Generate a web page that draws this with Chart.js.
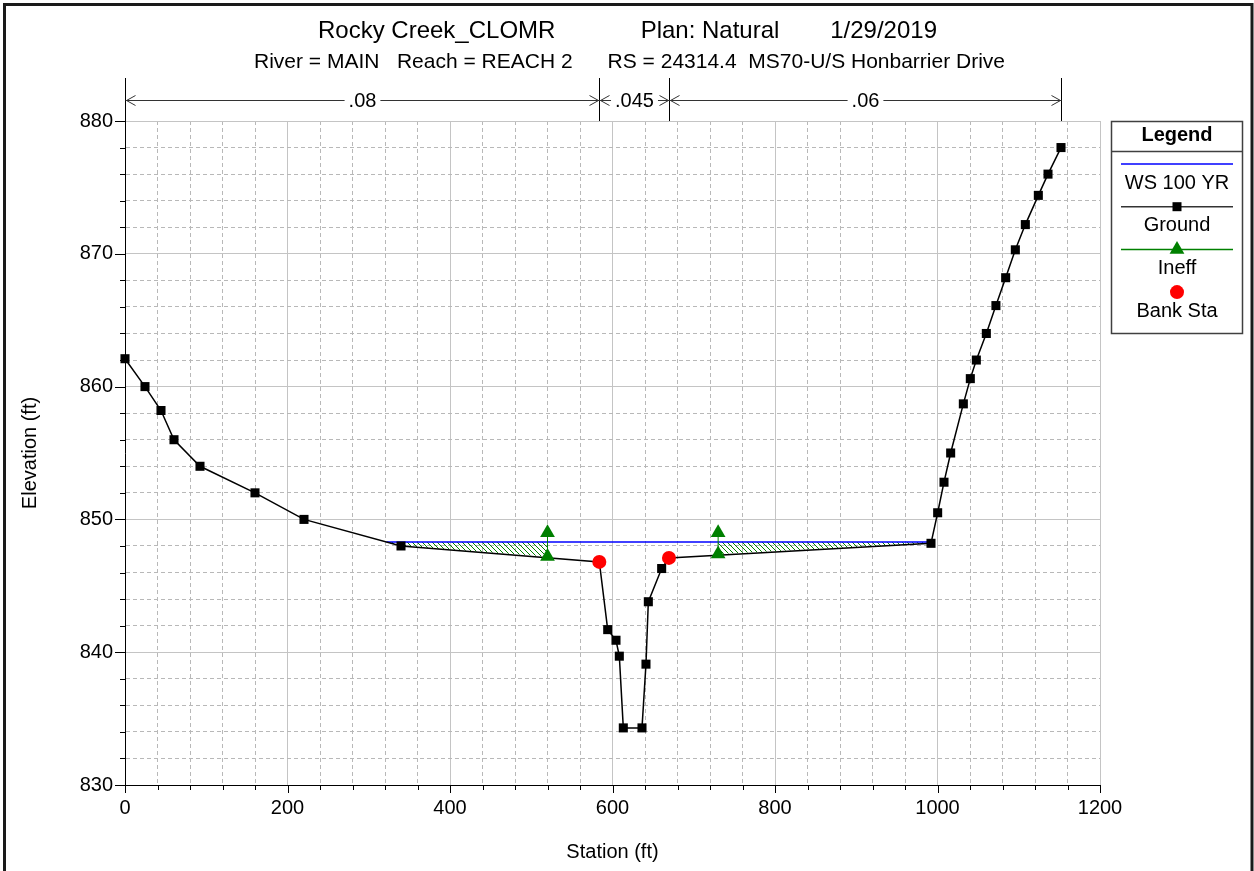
<!DOCTYPE html>
<html>
<head>
<meta charset="utf-8">
<title>Rocky Creek_CLOMR - Natural</title>
<script src="https://cdn.jsdelivr.net/npm/chart.js@4.4.1/dist/chart.umd.min.js"></script>
<style>
  html, body { margin: 0; padding: 0; background: #fff; }
  #wrap { width: 1254px; height: 871px; position: relative; }
</style>
</head>
<body>
<div id="wrap"><canvas id="xsChart" width="1254" height="871"></canvas></div>
<script>
// ground section (station ft / elevation ft)
const stations   = [0, 24.6, 44.3, 60.3, 92.3, 160.0, 220.3, 339.7, 583.8, 594.1, 604.3, 608.4, 613.3, 636.3, 641.2, 644.1, 660.5, 669.5,
                    992.0, 1000.2, 1008.0, 1016.2, 1031.8, 1040.4, 1047.8, 1060.1, 1071.9, 1083.9, 1095.8, 1108.1, 1124.1, 1136.0, 1152.0];
const elevations = [862.1, 860.0, 858.2, 856.0, 854.0, 852.0, 850.0, 848.0, 846.8, 841.7, 840.9, 839.7, 834.3, 834.3, 839.1, 843.8, 846.3, 847.1,
                    848.2, 850.5, 852.8, 855.0, 858.7, 860.6, 862.0, 864.0, 866.1, 868.2, 870.3, 872.2, 874.4, 876.0, 878.0];

// water surface
const wsStations = [321.8, 992.3];
const wsElevation = 848.3;

// ineffective flow limits
const ineffStations = [520, 730];
const ineffGround = [847.2, 847.4];
const ineffElevation = 849.0;

// bank stations
const bankStations = [583.8, 669.5];
const bankElevations = [846.8, 847.1];

// manning's n breaks
const nBreakStations = [0, 583.8, 669.5, 1152];
const nValues = ['.08', '.045', '.06'];

// axes
const xMin = 0, xMax = 1200, xMinorStep = 40, xLabelStep = 200;
const yMin = 830, yMax = 880, yMinorStep = 2, yLabelStep = 10;

const titleParts = ['Rocky Creek_CLOMR', 'Plan: Natural', '1/29/2019'];
const subtitleText = 'River = MAIN   Reach = REACH 2      RS = 24314.4  MS70-U/S Honbarrier Drive';

const legendItems = [
  { label: 'WS 100 YR', color: '#0000ff', marker: null },
  { label: 'Ground', color: '#000000', marker: 'rect' },
  { label: 'Ineff', color: '#008000', marker: 'triangle' },
  { label: 'Bank Sta', color: '#ff0000', marker: 'circle', noLine: true }
];

const FONT = '"Liberation Sans", Arial, Helvetica, sans-serif';

function isStep(v, step) {
  return Math.abs(v / step - Math.round(v / step)) < 1e-6;
}

function hatchPattern() {
  const c = document.createElement('canvas');
  c.width = 5; c.height = 5;
  const g = c.getContext('2d');
  g.strokeStyle = '#008000';
  g.lineWidth = 1;
  g.beginPath();
  g.moveTo(0, 0); g.lineTo(5, 5);
  g.moveTo(-1, 4); g.lineTo(1, 6);
  g.moveTo(4, -1); g.lineTo(6, 1);
  g.stroke();
  return g.createPattern(c, 'repeat');
}

// polygon between ws and ground from a to b
function hatchPolygon(a, groundA, b, groundB) {
  const pts = [{x: a, y: wsElevation}, {x: b, y: wsElevation}, {x: b, y: groundB}];
  for (let i = stations.length - 1; i >= 0; i--) {
    if (stations[i] > a && stations[i] < b) pts.push({x: stations[i], y: elevations[i]});
  }
  pts.push({x: a, y: groundA});
  pts.push({x: a, y: wsElevation});
  return pts;
}

const groundData = stations.map((s, i) => ({x: s, y: elevations[i]}));
const wsData = wsStations.map(s => ({x: s, y: wsElevation}));
const bankData = bankStations.map((s, i) => ({x: s, y: bankElevations[i]}));
const ineffData = [];
ineffStations.forEach((s, i) => {
  if (i) ineffData.push({x: null, y: null});
  ineffData.push({x: s, y: ineffGround[i]}, {x: s, y: ineffElevation});
});
const hatchLeft = hatchPolygon(wsStations[0], wsElevation, ineffStations[0], ineffGround[0]);
const hatchRight = hatchPolygon(ineffStations[1], ineffGround[1], wsStations[1], wsElevation);

function line(ctx, x1, y1, x2, y2) {
  ctx.beginPath(); ctx.moveTo(x1, y1); ctx.lineTo(x2, y2); ctx.stroke();
}

function drawMarker(ctx, type, x, y, color) {
  ctx.fillStyle = color;
  ctx.beginPath();
  if (type === 'rect') {
    ctx.rect(x - 4.5, y - 4.5, 9, 9);
  } else if (type === 'triangle') {
    ctx.moveTo(x, y - 8.5);
    ctx.lineTo(x + 7.4, y + 4.3);
    ctx.lineTo(x - 7.4, y + 4.3);
    ctx.closePath();
  } else if (type === 'circle') {
    ctx.arc(x, y, 7, 0, Math.PI * 2);
  }
  ctx.fill();
}

const decorations = {
  id: 'decorations',
  afterDraw(chart) {
    const ctx = chart.ctx;
    const xs = chart.scales.x, ys = chart.scales.y;
    const area = chart.chartArea;
    ctx.save();

    // outer frame
    ctx.strokeStyle = '#1a1a1a';
    ctx.lineWidth = 3;
    ctx.strokeRect(4.5, 4.5, 1247.5, 900);

    // titles
    ctx.fillStyle = '#000';
    ctx.textBaseline = 'middle';
    ctx.font = '24px ' + FONT;
    ctx.textAlign = 'left';
    ctx.fillText(titleParts[0], 318, 31);
    ctx.textAlign = 'center';
    ctx.fillText(titleParts[1], 710, 31);
    ctx.textAlign = 'right';
    ctx.fillText(titleParts[2], 937, 31);
    ctx.textAlign = 'center';
    ctx.font = '21px ' + FONT;
    ctx.fillText(subtitleText, 629.5, 62);

    // tick marks
    ctx.strokeStyle = '#000';
    ctx.lineWidth = 1;
    xs.ticks.forEach(t => {
      const p = Math.round(xs.getPixelForValue(t.value)) + 0.5;
      line(ctx, p, area.bottom, p, area.bottom + (isStep(t.value, xLabelStep) ? 8 : 5));
    });
    ys.ticks.forEach(t => {
      const p = Math.round(ys.getPixelForValue(t.value)) + 0.5;
      line(ctx, area.left - (isStep(t.value, yLabelStep) ? 10 : 5), p, area.left, p);
    });

    // manning's n bar
    const barY = 100.5, topY = 78;
    const px = nBreakStations.map(s => Math.round(xs.getPixelForValue(s)) + 0.5);
    ctx.font = '20px ' + FONT;
    px.forEach(p => line(ctx, p, topY, p, area.top));
    ctx.strokeStyle = '#333';
    for (let i = 0; i < nValues.length; i++) {
      const a = px[i], b = px[i + 1], mid = (a + b) / 2;
      const w = ctx.measureText(nValues[i]).width / 2 + 4;
      line(ctx, a, barY, mid - w, barY);
      line(ctx, mid + w, barY, b, barY);
      ctx.beginPath();
      ctx.moveTo(a + 10, barY - 5); ctx.lineTo(a + 1, barY); ctx.lineTo(a + 10, barY + 5);
      ctx.moveTo(b - 10, barY - 5); ctx.lineTo(b - 1, barY); ctx.lineTo(b - 10, barY + 5);
      ctx.stroke();
      ctx.fillStyle = '#000';
      ctx.fillText(nValues[i], mid, barY + 1);
    }

    // legend box
    const lx = 1111.5, ly = 121.5, lw = 131, lh = 212;
    const cx = lx + lw / 2;
    ctx.fillStyle = '#fff';
    ctx.fillRect(lx, ly, lw, lh);
    ctx.strokeStyle = '#404040';
    ctx.lineWidth = 1.5;
    ctx.strokeRect(lx, ly, lw, lh);
    line(ctx, lx, 151.5, lx + lw, 151.5);
    ctx.fillStyle = '#000';
    ctx.font = 'bold 20px ' + FONT;
    ctx.fillText('Legend', cx, 135);
    ctx.font = '20px ' + FONT;
    legendItems.forEach((it, i) => {
      const yLine = 164 + i * 42.7;
      if (!it.noLine) {
        ctx.strokeStyle = it.color === '#000000' ? '#333' : it.color;
        ctx.lineWidth = 1.5;
        line(ctx, 1121, yLine, 1233, yLine);
      }
      if (it.marker) drawMarker(ctx, it.marker, cx, yLine, it.color);
      ctx.fillStyle = '#000';
      ctx.fillText(it.label, cx, yLine + 19);
    });

    ctx.restore();
  }
};

const pattern = hatchPattern();

new Chart(document.getElementById('xsChart'), {
  type: 'scatter',
  data: {
    datasets: [
      {
        label: 'Bank Sta', data: bankData, order: 0,
        pointStyle: 'circle', pointRadius: 7, pointBackgroundColor: '#ff0000', pointBorderWidth: 0,
        showLine: false, clip: false
      },
      {
        label: 'Ineff', data: ineffData, order: 1,
        showLine: true, spanGaps: false, borderColor: '#008000', borderWidth: 1,
        pointStyle: 'triangle', pointRadius: 8.5, pointBackgroundColor: '#008000', pointBorderWidth: 0,
        clip: false
      },
      {
        label: 'Ground', data: groundData, order: 2,
        showLine: true, borderColor: '#000', borderWidth: 1.5,
        pointStyle: 'rect', pointRadius: 6.4, pointBackgroundColor: '#000', pointBorderWidth: 0,
        clip: false
      },
      {
        label: 'WS 100 YR', data: wsData, order: 3,
        showLine: true, borderColor: '#0000ff', borderWidth: 1.5, pointRadius: 0
      },
      {
        label: 'hatch L', data: hatchLeft, order: 4,
        showLine: true, borderColor: 'rgba(0,0,0,0)', fill: 'shape', backgroundColor: pattern, pointRadius: 0
      },
      {
        label: 'hatch R', data: hatchRight, order: 5,
        showLine: true, borderColor: 'rgba(0,0,0,0)', fill: 'shape', backgroundColor: pattern, pointRadius: 0
      }
    ]
  },
  options: {
    responsive: false,
    animation: false,
    events: [],
    layout: { padding: { left: 0, right: 154, top: 121, bottom: 0 } },
    plugins: {
      legend: { display: false },
      tooltip: { enabled: false },
      title: { display: false }
    },
    scales: {
      x: {
        type: 'linear', min: xMin, max: xMax,
        afterFit: s => { s.height = 86; },
        ticks: {
          stepSize: xMinorStep, autoSkip: false, maxRotation: 0, padding: 11,
          color: '#000', font: { size: 20, family: FONT },
          callback: v => isStep(v, xLabelStep) ? String(v) : ''
        },
        grid: {
          drawTicks: false,
          color: c => c.tick && isStep(c.tick.value, xLabelStep) ? '#c4c4c4' : '#b8b8b8',
          lineWidth: 1
        },
        border: {
          display: true, color: '#000', width: 1,
          dash: c => c.tick && !isStep(c.tick.value, xLabelStep) ? [4, 3] : []
        },
        title: {
          display: true, text: 'Station (ft)', color: '#000',
          font: { size: 20, family: FONT }, padding: { top: 0, bottom: 7 }
        }
      },
      y: {
        type: 'linear', min: yMin, max: yMax,
        afterFit: s => { s.width = 125; },
        ticks: {
          stepSize: yMinorStep, autoSkip: false, padding: 12,
          color: '#000', font: { size: 20, family: FONT },
          callback: v => isStep(v, yLabelStep) ? String(v) : ''
        },
        grid: {
          drawTicks: false,
          color: c => c.tick && isStep(c.tick.value, yLabelStep) ? '#c4c4c4' : '#b8b8b8',
          lineWidth: 1
        },
        border: {
          display: true, color: '#000', width: 1,
          dash: c => c.tick && !isStep(c.tick.value, yLabelStep) ? [4, 3] : []
        },
        title: {
          display: true, text: 'Elevation (ft)', color: '#000',
          font: { size: 20, family: FONT }, padding: { top: 18, bottom: 0 }
        }
      }
    }
  },
  plugins: [decorations]
});
</script>
</body>
</html>
